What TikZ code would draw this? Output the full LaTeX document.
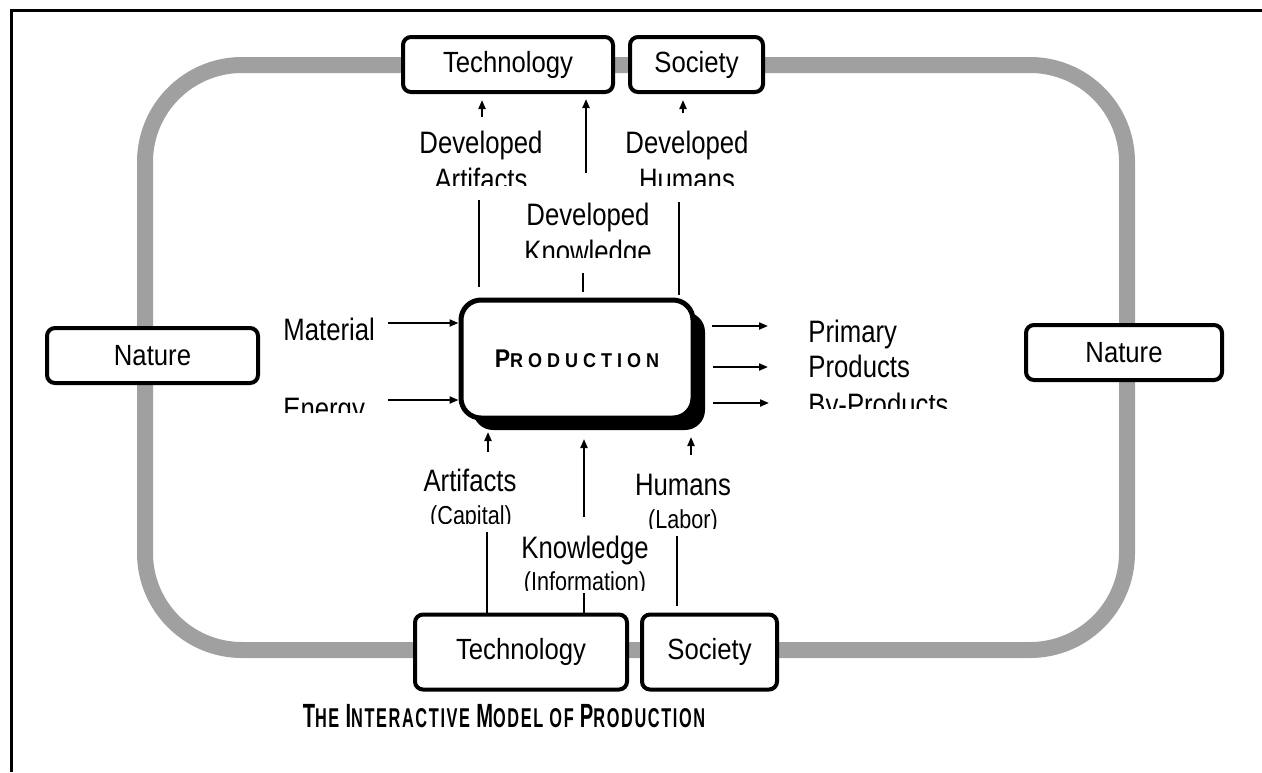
\documentclass[tikz,border=0pt]{standalone}
\usepackage{fontspec}
\setmainfont{Liberation Sans}[FakeStretch=0.88]
\newfontfamily\lblfont{Liberation Sans}[FakeStretch=0.83]
\newfontfamily\prodfont{Liberation Sans}[FakeStretch=0.9,LetterSpace=25]
\newfontfamily\titlefont{Liberation Sans}[FakeStretch=0.6,LetterSpace=6]
\usetikzlibrary{arrows.meta,shadows}

\definecolor{framegray}{RGB}{160,160,160}

% larger first letters for the small-caps titles
\newcommand\titlecap[1]{{\fontsize{16.8}{18}\selectfont#1}}
\newcommand\boxcap[1]{{\fontsize{12.8}{14}\selectfont#1}}

\tikzset{
  box/.style={draw, line width=2pt, rounded corners=4pt, fill=white,
    minimum height=27.5pt, inner sep=0pt, font=\fontsize{14.6}{16}\selectfont},
  lbl/.style={anchor=base, inner sep=0pt, font=\lblfont\fontsize{15.5}{17}\selectfont},
  sublbl/.style={anchor=base, inner sep=0pt, font=\lblfont\fontsize{13}{15}\selectfont},
  flow/.style={line width=1pt},
  >={Triangle[length=4.5pt,width=3.5pt]},
}

\begin{document}
\begin{tikzpicture}[x=0.5pt,y=-0.5pt]

  \useasboundingbox (0,0) rectangle (1262,772);
  \draw[line width=1.5pt] (11,772) -- (11,10) -- (1262,10);

  % the grey loop
  \draw[framegray, line width=8pt, rounded corners=48.5pt] (145,65) rectangle (1127,650);

  \node[box, minimum width=105pt] (techtop) at (508,64.5) {Technology};
  \node[box, minimum width=66.5pt] (soctop) at (696.5,64.5) {Society};
  \node[box, minimum width=106pt, minimum height=37.5pt] (techbot) at (521,652) {Technology};
  \node[box, minimum width=67.5pt, minimum height=37.5pt] (socbot) at (709.5,652) {Society};
  \node[box, minimum width=105.5pt] (natleft) at (152.5,355.5) {Nature};
  \node[box, minimum width=98pt] (natright) at (1124,352.5) {Nature};

  \node[draw, line width=2.5pt, rounded corners=10pt, fill=white,
    minimum width=116pt, minimum height=59pt,
    general shadow={fill=black, shadow xshift=6pt, shadow yshift=-6pt},
    font=\prodfont\bfseries\fontsize{10}{12}\selectfont] (prod) at (577,359) {\boxcap{P}RODUCTION};

  % labels above
  \node[lbl] (devA) at (481,153) {Developed};
  \node[lbl] (devH) at (687,153) {Developed};
  \node[lbl] (devK) at (588,225) {Developed};
  \begin{scope}
    \clip (400,160) rectangle (780,185);
    \node[lbl] (devA2) at (481,190) {Artifacts};
    \node[lbl] (devH2) at (687,190) {Humans};
  \end{scope}
  \begin{scope}
    \clip (500,232) rectangle (680,257);
    \node[lbl] (devK2) at (588,262) {Knowledge};
  \end{scope}

  % inputs and outputs
  \node[lbl, anchor=base west] (mat) at (283,340) {Material};
  \node[lbl, anchor=base west] (prim) at (808,342) {Primary};
  \node[lbl, anchor=base west] (prods) at (808,377) {Products};
  \begin{scope}
    \clip (270,390) rectangle (380,412);
    \node[lbl, anchor=base west] (ener) at (283,419) {Energy};
  \end{scope}
  \begin{scope}
    \clip (800,385) rectangle (980,408);
    \node[lbl, anchor=base west] (byp) at (808,415) {By-Products};
  \end{scope}

  % labels below
  \node[lbl] (art) at (470,491) {Artifacts};
  \node[lbl] (hum) at (683,495) {Humans};
  \node[lbl] (know) at (585,558) {Knowledge};
  \begin{scope}
    \clip (420,500) rectangle (740,523);
    \node[sublbl] (cap) at (471,524) {(Capital)};
  \end{scope}
  \begin{scope}
    \clip (620,505) rectangle (740,528);
    \node[sublbl] (lab) at (683,528) {(Labor)};
  \end{scope}
  \begin{scope}
    \clip (510,565) rectangle (660,590);
    \node[sublbl] (info) at (585,590) {(Information)};
  \end{scope}

  % flows into and out of production
  \coordinate (matA) at (388,323);
  \coordinate (enerA) at (388,400);
  \draw[flow,->] (matA) -- (matA -| prod.west);
  \draw[flow,->] (enerA) -- (enerA -| prod.west);
  \coordinate (out1) at (712,326);
  \coordinate (out2) at (713,367);
  \coordinate (out3) at (713,403);
  \draw[flow,->] (out1) -- ++(56,0);
  \draw[flow,->] (out2) -- ++(55,0);
  \draw[flow,->] (out3) -- ++(56,0);

  % top
  \coordinate (ta) at (482,117);
  \coordinate (tk) at (586,173);
  \coordinate (th) at (683,113);
  \draw[flow,->] (ta) -- ([yshift=-3pt]ta |- techtop.south);
  \draw[flow,->] (tk) -- ([yshift=-2.5pt]tk |- techtop.south);
  \draw[flow,->] (th) -- ([yshift=-3pt]th |- soctop.south);
  \draw[flow] (479,200) coordinate (la1) -- (479,287) coordinate (la2);
  \draw[flow] (583,273) coordinate (lk1) -- (583,292) coordinate (lk2);
  \draw[flow] (679,202) coordinate (lh1) -- (679,295) coordinate (lh2);

  % bottom
  \coordinate (ba) at (488,452);
  \coordinate (bk) at (584,517);
  \coordinate (bh) at (691,455);
  \draw[flow,->] (ba) -- (488,432);
  \draw[flow,->] (bk) -- (584,439);
  \draw[flow,->] (bh) -- (691,437);
  \draw[flow] (487,532) coordinate (ma1) -- (ma1 |- techbot.north);
  \draw[flow] (584,593) coordinate (mk1) -- (mk1 |- techbot.north);
  \draw[flow] (677,536) coordinate (mh1) -- ([yshift=3.5pt]mh1 |- socbot.north);

  \node[font=\titlefont\bfseries\fontsize{13.6}{16}\selectfont, anchor=base] (title) at (504,727)
    {\titlecap{T}HE \titlecap{I}NTERACTIVE \titlecap{M}ODEL OF \titlecap{P}RODUCTION};

\end{tikzpicture}
\end{document}
